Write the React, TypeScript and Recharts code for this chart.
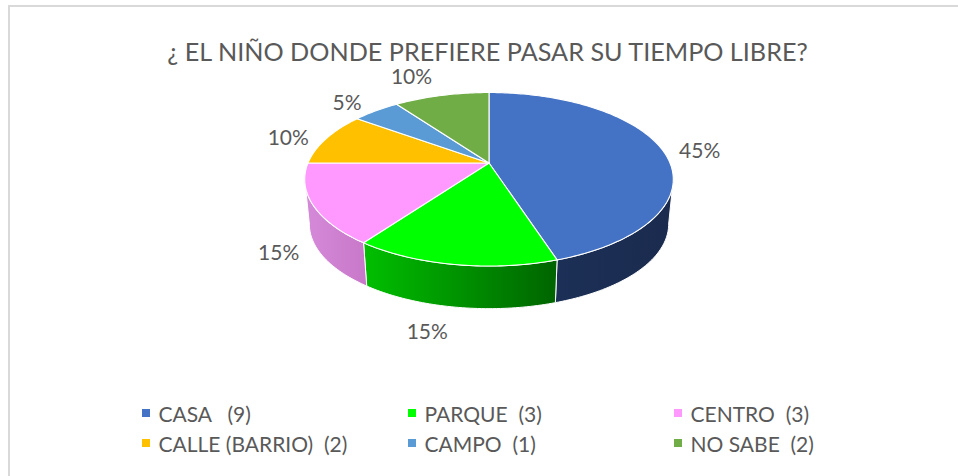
import React from "react";
import { PieChart, Pie, Cell, Legend } from "recharts";

const categories = ["CASA   (9)", "PARQUE  (3)", "CENTRO  (3)", "CALLE (BARRIO)  (2)", "CAMPO  (1)", "NO SABE  (2)"];
const counts = [9, 3, 3, 2, 1, 2];
const colors = ["#4472c4", "#00ff00", "#ff99ff", "#ffc000", "#5b9bd5", "#70ad47"];
const wallFills = ["url(#wallBlue)", "url(#wallGreen)", "url(#wallPink)", "none", "none", "none"];
// where each % label sits relative to the rim point of its slice
const labelNudge = [[37, -1], [-27, 66], [-34, 47], [-38, -2], [-29, -9], [-30, -20]];

const table = categories.map((name, i) => ({ name, value: counts[i] }));

const TEXT = "#595959";
const FONT = "Lato, sans-serif";

// the pie is tilted with perspective, so project the circle by hand
const SQUASH = 0.4624;
const TILT = 0.1876;
const DEPTH = 45.2;
const BOTTOM_SCALE = 0.975;
// the sides of the projected disc are just below the horizontal
const SIDE_ANGLE = (Math.asin(TILT) * 180) / Math.PI;

const project = (cx: number, cy: number, r: number, deg: number) => {
  const rad = (deg * Math.PI) / 180;
  const u = Math.cos(rad);
  const v = -Math.sin(rad);
  const d = 1 - TILT * v;
  return { x: cx + (r * u) / d, y: cy + (r * SQUASH * v) / d };
};

const rim = (cx: number, cy: number, r: number, from: number, to: number) => {
  const pts = [];
  const n = Math.max(2, Math.ceil(Math.abs(to - from)));
  for (let i = 0; i <= n; i++) pts.push(project(cx, cy, r, from + ((to - from) * i) / n));
  return pts;
};

const toPath = (pts: { x: number; y: number }[]) =>
  pts.map((p, i) => `${i ? "L" : "M"}${p.x.toFixed(2)},${p.y.toFixed(2)}`).join(" ");

const Slice = (props: any) => {
  const { cx, cy, outerRadius, startAngle, endAngle, fill, index, name } = props;
  const idx = index ?? categories.indexOf(name);
  const top = rim(cx, cy, outerRadius, startAngle, endAngle);
  // only the front of the pie shows a wall
  const wStart = Math.min(startAngle, -SIDE_ANGLE);
  const wEnd = Math.max(endAngle, -180 + SIDE_ANGLE);
  let wall = "";
  if (wStart > wEnd) {
    const upper = rim(cx, cy, outerRadius, wStart, wEnd);
    const lower = upper.map((p) => ({
      x: cx + (p.x - cx) * BOTTOM_SCALE,
      y: cy + DEPTH + (p.y - cy) * BOTTOM_SCALE,
    }));
    wall = toPath([...upper, ...lower.reverse()]) + " Z";
  }
  return (
    <g>
      {wall && <path d={wall} fill={wallFills[idx]} stroke="#fff" strokeWidth={1} strokeLinejoin="round" />}
      <path d={`M${cx},${cy} ${toPath(top).replace("M", "L")} Z`} fill={fill} stroke="#fff" strokeWidth={1.1} strokeLinejoin="round" />
    </g>
  );
};

const PctLabel = (props: any) => {
  const { cx, cy, outerRadius, midAngle, percent, index } = props;
  const p = project(cx, cy, outerRadius, midAngle);
  const [dx, dy] = labelNudge[index];
  return (
    <text x={p.x + dx} y={p.y + dy} textAnchor="middle" dominantBaseline="central" fill={TEXT} style={{ fontFamily: FONT, fontSize: 21 }}>
      {`${Math.round(percent * 100)}%`}
    </text>
  );
};

const LegendGrid = () => (
  <div style={{ display: "grid", gridTemplateColumns: "266px 266px 200px", rowGap: 0, fontFamily: FONT, fontSize: 21, color: TEXT }}>
    {categories.map((name, i) => (
      <div key={name} style={{ display: "flex", alignItems: "center", height: 30, whiteSpace: "pre" }}>
        <span style={{ width: 8, height: 8, background: colors[i], marginRight: 8.5 }} />
        {name}
      </div>
    ))}
  </div>
);

export default function App() {
  return (
    <div style={{ position: "relative", width: 958, height: 476, background: "#fff", overflow: "hidden" }}>
      <style>{"body{margin:0}"}</style>
      <div style={{ position: "absolute", left: 8, top: 5, width: 960, height: 480, borderLeft: "2px solid #d9d9d9", borderTop: "2px solid #d9d9d9" }} />
      <div style={{ position: "absolute", left: 0, top: 39, width: 975, textAlign: "center", fontFamily: FONT, fontSize: 25.2, lineHeight: "25px", color: TEXT, whiteSpace: "pre" }}>
        ¿ EL NIÑO DONDE PREFIERE PASAR SU TIEMPO LIBRE?
      </div>
      <div style={{ position: "absolute", left: 0, top: 0 }}>
        <PieChart width={958} height={476} margin={{ top: 0, right: 0, bottom: 0, left: 0 }}>
          <defs>
            <linearGradient id="wallBlue" x1="0" y1="0" x2="1" y2="0">
              <stop offset="0" stopColor="#1c2f56" />
              <stop offset="1" stopColor="#1a2b4e" />
            </linearGradient>
            <linearGradient id="wallGreen" x1="0" y1="0" x2="1" y2="0">
              <stop offset="0" stopColor="#00bf00" />
              <stop offset="1" stopColor="#006400" />
            </linearGradient>
            <linearGradient id="wallPink" x1="0" y1="0" x2="1" y2="0">
              <stop offset="0" stopColor="#d58ad9" />
              <stop offset="1" stopColor="#c878c8" />
            </linearGradient>
          </defs>
          <Pie
            data={table}
            dataKey="value"
            nameKey="name"
            cx={489}
            cy={163}
            outerRadius={181}
            startAngle={90}
            endAngle={-270}
            stroke="none"
            shape={Slice}
            label={PctLabel}
            labelLine={false}
            isAnimationActive={false}
          >
            {categories.map((c, i) => (
              <Cell key={c} fill={colors[i]} />
            ))}
          </Pie>
          <Legend
            content={LegendGrid}
            wrapperStyle={{ position: "absolute", left: 142, top: 398, width: 760, height: 60, bottom: "auto" }}
          />
        </PieChart>
      </div>
    </div>
  );
}
